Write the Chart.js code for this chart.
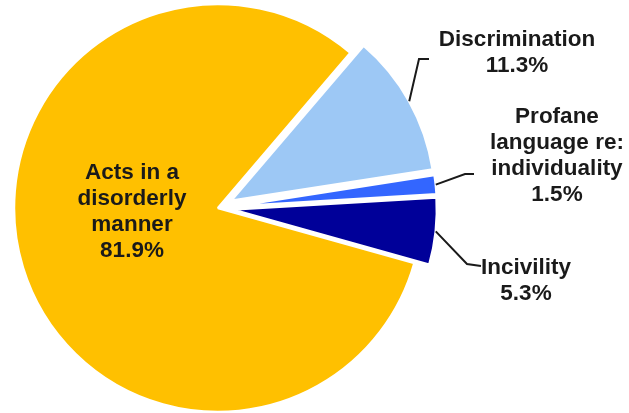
<!DOCTYPE html>
<html>
<head>
<meta charset="utf-8">
<script src="https://cdn.jsdelivr.net/npm/chart.js@4"></script>
<style>
  html, body { margin: 0; padding: 0; background: #fff; }
  #wrap { width: 629px; height: 413px; }
</style>
</head>
<body>
<div id="wrap"><canvas id="pieCanvas"></canvas></div>
<script>
// data, in drawing order (clockwise from upper right)
const categories = ['Discrimination', 'Profane language re: individuality', 'Incivility', 'Acts in a disorderly manner'];
const shares = [11.3, 1.5, 5.3, 81.9];
const sliceColors = ['#9DC8F5', '#3366FF', '#000099', '#FFC000'];
// pulled-out distance in px (done by hand, chart.js offset also shrinks/grows the arc)
const explode = [15, 15, 15, 0];

// label text lines for each slice
const labelLines = [
    ['Discrimination', '11.3%'],
    ['Profane', 'language re:', 'individuality', '1.5%'],
    ['Incivility', '5.3%'],
    ['Acts in a', 'disorderly', 'manner', '81.9%']
];

// where each label goes (leader elbow + text centre), null elbow = inside
const labelLayout = [
    { frac: 0.5, elbow: [419, 59], end: [429, 59], text: [517, 40] },
    { frac: 0.5, elbow: [465, 174], end: [474, 174], text: [557, 117] },
    { frac: 0.5, elbow: [467, 264], end: [481, 266], text: [526, 268] },
    { elbow: null, text: [132, 173] }
];

const explodeSlices = {
    id: 'explodeSlices',
    afterDatasetsUpdate(chart) {
        chart.getDatasetMeta(0).data.forEach((arc, i) => {
            const mid = (arc.startAngle + arc.endAngle) / 2;
            arc.x += Math.cos(mid) * explode[i];
            arc.y += Math.sin(mid) * explode[i];
        });
    }
};

const pieLabels = {
    id: 'pieLabels',
    afterDatasetsDraw(chart) {
        const ctx = chart.ctx;
        const arcs = chart.getDatasetMeta(0).data;
        ctx.save();
        ctx.font = 'bold 22.5px "Liberation Sans", Arial, sans-serif';
        ctx.fillStyle = '#1a1a1a';
        ctx.strokeStyle = '#1a1a1a';
        ctx.lineWidth = 2;
        ctx.textAlign = 'center';
        ctx.textBaseline = 'middle';
        arcs.forEach((arc, i) => {
            const lay = labelLayout[i];
            if (lay.elbow) {
                const a = arc.startAngle + (arc.endAngle - arc.startAngle) * lay.frac;
                const sx = arc.x + Math.cos(a) * arc.outerRadius;
                const sy = arc.y + Math.sin(a) * arc.outerRadius;
                ctx.beginPath();
                ctx.moveTo(sx, sy);
                ctx.lineTo(lay.elbow[0], lay.elbow[1]);
                ctx.lineTo(lay.end[0], lay.end[1]);
                ctx.stroke();
            }
            labelLines[i].forEach((line, k) => {
                ctx.fillText(line, lay.text[0], lay.text[1] + k * 26);
            });
        });
        ctx.restore();
    }
};

new Chart(document.getElementById('pieCanvas'), {
    type: 'pie',
    data: {
        labels: categories,
        datasets: [{
            data: shares,
            backgroundColor: sliceColors,
            borderColor: '#ffffff',
            borderWidth: 2.5
        }]
    },
    options: {
        responsive: true,
        maintainAspectRatio: false,
        animation: false,
        rotation: 40.5,
        radius: 204,
        layout: { padding: { left: 0, right: 193, top: 3, bottom: 0 } },
        plugins: {
            legend: { display: false },
            tooltip: { enabled: false }
        }
    },
    plugins: [explodeSlices, pieLabels]
});
</script>
</body>
</html>
